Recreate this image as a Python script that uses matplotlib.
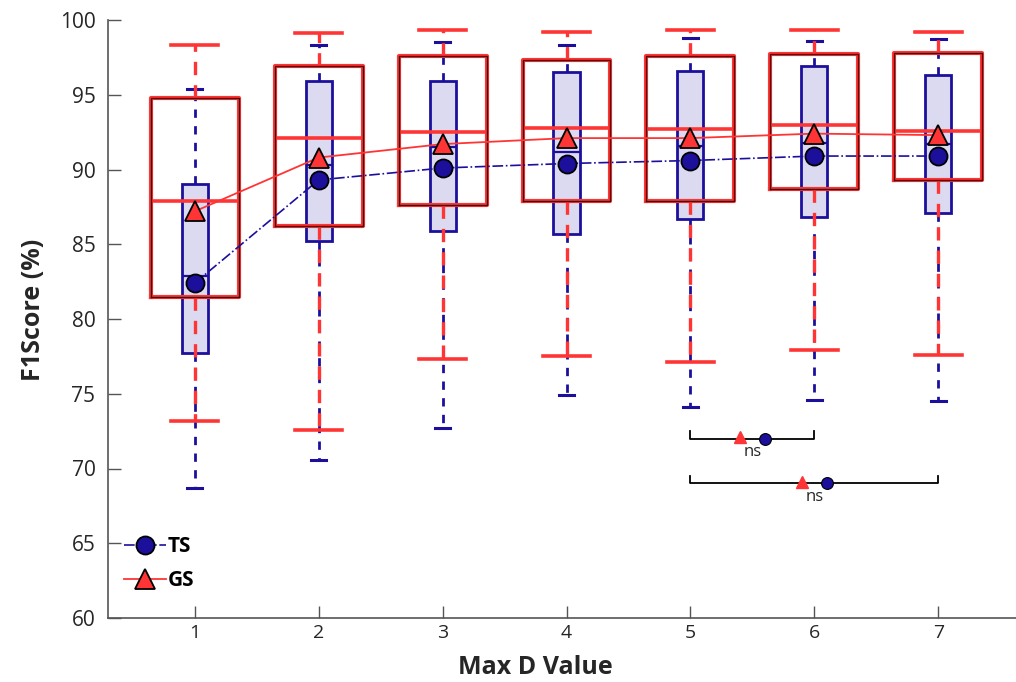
import numpy as np
import matplotlib
matplotlib.use("Agg")
import matplotlib.pyplot as plt
from matplotlib.lines import Line2D

plt.rcParams.update({
    "font.family": ["Open Sans", "DejaVu Sans"],
    "font.size": 14,
})

# ---- data ----
max_d = [1, 2, 3, 4, 5, 6, 7]

ts_whislo = [68.7, 70.6, 72.7, 74.9, 74.1, 74.6, 74.5]
ts_q1 = [77.7, 85.2, 85.9, 85.7, 86.7, 86.8, 87.1]
ts_med = [82.9, 90.3, 91.5, 91.2, 91.6, 91.8, 91.7]
ts_q3 = [89.0, 95.9, 95.9, 96.5, 96.6, 96.9, 96.3]
ts_whishi = [95.4, 98.3, 98.5, 98.3, 98.8, 98.6, 98.7]
ts_mean = [82.4, 89.3, 90.1, 90.4, 90.6, 90.9, 90.9]

gs_whislo = [73.2, 72.6, 77.3, 77.5, 77.1, 77.9, 77.6]
gs_q1 = [81.5, 86.2, 87.6, 87.9, 87.9, 88.7, 89.3]
gs_med = [87.9, 92.1, 92.5, 92.8, 92.7, 93.0, 92.6]
gs_q3 = [94.8, 96.9, 97.6, 97.3, 97.6, 97.7, 97.8]
gs_whishi = [98.3, 99.1, 99.3, 99.2, 99.3, 99.35, 99.2]
gs_mean = [87.2, 90.8, 91.7, 92.1, 92.1, 92.4, 92.3]

# significance brackets: (from, to), bracket level, marker positions
sig_spans = [(5, 6), (5, 7)]
sig_level = [72.0, 69.0]
sig_gs_x = [5.4, 5.9]
sig_ts_x = [5.6, 6.1]
sig_text = ["ns", "ns"]

C_GS = "#ff3535"
C_GS_DARK = "#4a0d0d"
C_TS = "#1c0f9c"
F_TS = "#dcdaf0"
C_AX = "#262626"


def stats(lo, q1, med, q3, hi):
    return [dict(whislo=a, q1=b, med=c, q3=d, whishi=e, fliers=[])
            for a, b, c, d, e in zip(lo, q1, med, q3, hi)]


W, H = 1016, 682
fig = plt.figure(figsize=(W / 100, H / 100), dpi=100)
# axes runs off the right edge, like the cropped original
ax = fig.add_axes([108 / W, 64 / H, (1025 - 108) / W, 598 / H])

# ---- TS boxes (thin, filled) ----
ax.bxp(stats(ts_whislo, ts_q1, ts_med, ts_q3, ts_whishi), positions=max_d,
       widths=0.21, patch_artist=True, showfliers=False, manage_ticks=False,
       boxprops=dict(facecolor=F_TS, edgecolor=C_TS, lw=2.0),
       medianprops=dict(color=C_TS, lw=1.6),
       whiskerprops=dict(color=C_TS, lw=2.0, ls=(0, (3, 3))),
       capprops=dict(color=C_TS, lw=2.2), capwidths=0.12,
       zorder=2)

# ---- GS boxes (wide, hollow, red with dark core) ----
gs = ax.bxp(stats(gs_whislo, gs_q1, gs_med, gs_q3, gs_whishi), positions=max_d,
            widths=0.71, showfliers=False, manage_ticks=False,
            boxprops=dict(color=C_GS, lw=3.0),
            medianprops=dict(color=C_GS, lw=2.6),
            whiskerprops=dict(color=C_GS, lw=2.4, ls=(0, (4, 3))),
            capprops=dict(color=C_GS, lw=2.6), capwidths=0.38,
            zorder=3)
for bl in gs["boxes"]:
    ax.plot(bl.get_xdata(), bl.get_ydata(), color=C_GS_DARK, lw=1.0, zorder=3.1)

# ---- mean trend lines ----
ax.plot(max_d, ts_mean, color=C_TS, lw=1.2, ls="-.", marker="o", ms=13,
        mfc=C_TS, mec="black", mew=1.3, zorder=5)
ax.plot(max_d, gs_mean, color=C_GS, lw=1.3, ls="-", marker="^", ms=15,
        mfc=C_GS, mec="black", mew=1.3, zorder=6)

# ---- significance brackets ----
for (a, b), yv, gx, tx, s in zip(sig_spans, sig_level, sig_gs_x, sig_ts_x, sig_text):
    ax.plot([a, a, b, b], [yv + 0.5, yv, yv, yv + 0.5], color="black", lw=1.3, zorder=4)
    ax.plot([gx], [yv + 0.12], marker="^", ms=9, mfc=C_GS, mec=C_GS, zorder=5)
    ax.plot([tx], [yv], marker="o", ms=8.5, mfc=C_TS, mec="black", mew=0.8, zorder=5)
    ax.text((gx + tx) / 2, yv - 0.35, s, ha="center", va="top", fontsize=12,
            color=C_AX, zorder=5)

# ---- axes ----
ax.set_xlim(0.3, 7.7)
ax.set_ylim(60, 100)
ax.set_xticks(max_d)
ax.set_yticks(np.arange(60, 101, 5))
ax.tick_params(direction="in", length=9, width=1.0, colors="#555555",
               labelcolor=C_AX, labelsize=15)
ax.tick_params(axis="y", pad=9)
ax.tick_params(axis="x", pad=4, labelsize=14)
for side in ("top", "right"):
    ax.spines[side].set_visible(False)
for side in ("left", "bottom"):
    ax.spines[side].set_color("#555555")
    ax.spines[side].set_linewidth(1.2)

ax.set_xlabel("Max D Value", fontsize=18, fontweight="bold", color=C_AX)
ax.set_ylabel("F1Score (%)", fontsize=18, fontweight="bold", color=C_AX)
ax.xaxis.set_label_coords((535 - 108) / (1025 - 108), -0.062)
ax.yaxis.set_label_coords(-0.068, 0.515)

handles = [
    Line2D([], [], color=C_TS, lw=1.2, ls="-.", marker="o", ms=13,
           mfc=C_TS, mec="black", mew=1.3),
    Line2D([], [], color=C_GS, lw=1.3, ls="-", marker="^", ms=15,
           mfc=C_GS, mec="black", mew=1.3),
]
ax.legend(handles, ["TS", "GS"], loc="lower left", bbox_to_anchor=(-0.012, 0.0),
          frameon=False, handlelength=2.0, handletextpad=0.1, labelspacing=0.6,
          prop=dict(size=15, weight="bold"), borderaxespad=0.9)

fig.savefig("out.png", dpi=100)
